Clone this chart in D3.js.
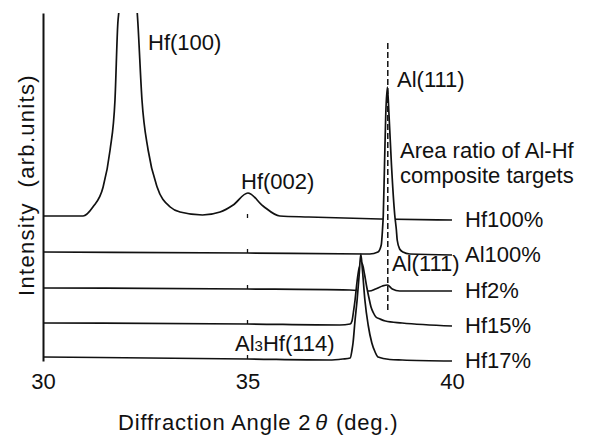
<!DOCTYPE html>
<html>
<head>
<meta charset="utf-8">
<script src="https://cdn.jsdelivr.net/npm/d3@7"></script>
<style>
  body { margin: 0; background: #fff; }
  text { font-family: "Liberation Sans", Arial, sans-serif; fill: #111; font-size: 22px; }
</style>
</head>
<body>
<svg id="chart"></svg>
<script>
var W = 595, H = 435;

// traces from top to bottom, offsets in arb. units
var traceNames = ["Hf100%", "Al100%", "Hf2%", "Hf15%", "Hf17%"];
var traceOffsets = [141, 106, 70, 35, 0];

var hf100Angle = [30.0, 30.98, 31.22, 31.47, 31.64, 31.76, 31.83, 31.86, 32.08, 32.30, 32.32, 32.42, 32.57, 32.79, 33.11, 33.35, 33.9, 34.33, 34.65, 35.01, 35.38, 35.79, 36.5, 38.24, 40.0];
var hf100Int   = [4, 4, 13, 33, 70, 120, 197, 210, 330, 210, 197, 120, 70, 33, 13, 8, 5, 8, 15, 27, 14, 4, 3, 1, 0];

var al100Angle = [30.0, 35.0, 37.99, 38.19, 38.27, 38.30, 38.32, 38.35, 38.38, 38.42, 38.46, 38.52, 38.60, 38.64, 38.66, 38.72, 38.80, 38.97, 40.0];
var al100Int   = [3, 2, 1, 3, 10, 25, 40, 90, 140, 168, 140, 90, 40, 25, 15, 6, 3, 1, 0];

var hf2Angle = [30.0, 35.0, 37.5, 37.98, 38.13, 38.30, 38.42, 38.54, 38.72, 40.0];
var hf2Int   = [3, 2, 1, 0, 2, 5, 6, 2, 0, 0];

var hf15Angle = [30.0, 35.0, 37.26, 37.51, 37.555, 37.59, 37.63, 37.68, 37.73, 37.80, 37.86, 37.92, 37.97, 38.02, 38.08, 38.14, 38.24, 38.37, 38.78, 40.0];
var hf15Int   = [3, 2, 1, 2, 5, 14, 26, 45, 58, 63, 52, 38, 28, 19, 13, 9, 7, 5, 3, 0];

var hf17Angle = [30.0, 35.0, 37.0, 37.33, 37.51, 37.555, 37.58, 37.63, 37.68, 37.73, 37.77, 37.81, 37.87, 37.95, 38.04, 38.12, 38.19, 38.48, 38.78, 40.0];
var hf17Int   = [4, 2, 1, 2, 3, 11, 18, 41, 61, 86, 107, 91, 61, 36, 18, 9, 4, 1.5, 1, 0];

var xTicks = [30, 35, 40];
var markAngle = 35;           // little tick drawn on every trace
var alLineAngle = 38.43;      // dashed Al(111) reference
var alLineRange = [51, 318];

var traceAngles = [hf100Angle, al100Angle, hf2Angle, hf15Angle, hf17Angle];
var traceInts = [hf100Int, al100Int, hf2Int, hf15Int, hf17Int];

var x = d3.scaleLinear().domain([30, 40]).range([43, 452]);
var y = d3.scaleLinear().domain([0, 348]).range([361, 13]);

var svg = d3.select("#chart")
    .attr("width", W)
    .attr("height", H);

svg.append("rect").attr("width", W).attr("height", H).attr("fill", "white");

svg.append("defs").append("clipPath")
    .attr("id", "plotclip")
  .append("rect")
    .attr("x", 0)
    .attr("y", y(348))
    .attr("width", W)
    .attr("height", H);

var plot = svg.append("g").attr("clip-path", "url(#plotclip)");

traceNames.forEach(function(name, i) {
    var off = traceOffsets[i];
    var pts = traceAngles[i].map(function(a, j) { return [a, traceInts[i][j]]; });

    var area = d3.area()
        .x(function(d) { return x(d[0]); })
        .y0(y(0) + 2)
        .y1(function(d) { return y(d[1] + off); })
        .curve(d3.curveMonotoneX);
    var line = d3.line()
        .x(function(d) { return x(d[0]); })
        .y(function(d) { return y(d[1] + off); })
        .curve(d3.curveMonotoneX);

    var g = plot.append("g").attr("class", "trace");
    g.append("path")
        .attr("d", area(pts))
        .attr("fill", "white");
    g.append("path")
        .attr("d", line(pts))
        .attr("fill", "none")
        .attr("stroke", "#111")
        .attr("stroke-width", 1.7);
    // small tick at 35 deg on the baseline
    g.append("line")
        .attr("x1", x(markAngle)).attr("x2", x(markAngle))
        .attr("y1", y(off + 2)).attr("y2", y(off + 6))
        .attr("stroke", "#111")
        .attr("stroke-width", 1.3);

    svg.append("text")
        .attr("x", 465)
        .attr("y", y(off) + 7)
        .text(name);
});

// dashed Al(111) line
svg.append("line")
    .attr("x1", x(alLineAngle)).attr("x2", x(alLineAngle))
    .attr("y1", y(alLineRange[1])).attr("y2", y(alLineRange[0]))
    .attr("stroke", "#111")
    .attr("stroke-width", 1.5)
    .attr("stroke-dasharray", "6,3");

// left axis
svg.append("g")
    .attr("transform", "translate(" + x(30) + ",0)")
    .call(d3.axisLeft(y).tickValues([]).tickSizeOuter(0))
    .select(".domain")
    .attr("stroke", "#111")
    .attr("stroke-width", 2);

// bottom tick labels (the Hf17% trace is the baseline)
var xAxis = svg.append("g")
    .attr("transform", "translate(0," + y(0) + ")")
    .call(d3.axisBottom(x).tickValues(xTicks).tickSize(0).tickPadding(12).tickFormat(d3.format("d")));
xAxis.select(".domain").remove();
xAxis.selectAll("text")
    .attr("font-family", "Liberation Sans, Arial, sans-serif")
    .attr("font-size", 22)
    .attr("fill", "#111");

// annotations
svg.append("text").attr("x", 148).attr("y", 50).text("Hf(100)");
svg.append("text").attr("x", 241).attr("y", 189).text("Hf(002)");
svg.append("text").attr("x", 397).attr("y", 87).text("Al(111)");
svg.append("text").attr("x", 400).attr("y", 158).text("Area ratio of Al-Hf");
svg.append("text").attr("x", 400).attr("y", 183).text("composite targets");
svg.append("text").attr("x", 392).attr("y", 271).text("Al(111)");

var al3 = svg.append("text").attr("x", 235).attr("y", 351);
al3.append("tspan").text("Al");
al3.append("tspan").attr("font-size", 15).text("3");
al3.append("tspan").text("Hf(114)");

// axis titles
var xt = svg.append("text").attr("x", 118).attr("y", 430).attr("letter-spacing", 0.8);
xt.append("tspan").text("Diffraction Angle 2");
xt.append("tspan").attr("font-style", "italic").attr("dx", 4).text("θ");
xt.append("tspan").attr("dx", 8).text("(deg.)");

svg.append("text")
    .attr("transform", "translate(34,185) rotate(-90)")
    .attr("text-anchor", "middle")
    .attr("letter-spacing", 1.3)
    .attr("xml:space", "preserve")
    .text("Intensity  (arb.units)");
</script>
</body>
</html>
